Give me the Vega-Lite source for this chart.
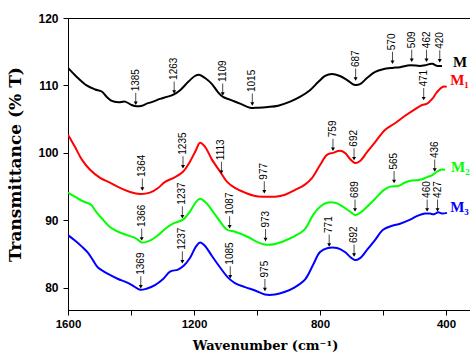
{
  "$schema": "https://vega.github.io/schema/vega-lite/v6.json",
  "width": 402,
  "height": 292,
  "autosize": {"type": "none"},
  "padding": {"left": 68, "top": 18, "right": 0, "bottom": 46},
  "background": "white",
  "config": {
    "view": {"stroke": "#000", "strokeWidth": 1},
    "axis": {"domainColor": "#000", "tickColor": "#000", "labelColor": "#000", "titleColor": "#000", "grid": false, "labelFlush": false, "labelOverlap": false}
  },
  "datasets": {
    "curves": [
      {"s":"M","x":1600,"y":112.6},{"s":"M","x":1573,"y":111.3},{"s":"M","x":1541,"y":110.0},{"s":"M","x":1514,"y":109.4},{"s":"M","x":1493,"y":109.1},{"s":"M","x":1477,"y":108.3},{"s":"M","x":1461,"y":107.7},{"s":"M","x":1440,"y":107.5},{"s":"M","x":1419,"y":107.6},{"s":"M","x":1398,"y":107.1},{"s":"M","x":1382,"y":106.9},{"s":"M","x":1365,"y":107.0},{"s":"M","x":1350,"y":107.3},{"s":"M","x":1330,"y":107.6},{"s":"M","x":1308,"y":108.0},{"s":"M","x":1286,"y":108.3},{"s":"M","x":1267,"y":108.6},{"s":"M","x":1244,"y":109.3},{"s":"M","x":1219,"y":110.5},{"s":"M","x":1197,"y":111.4},{"s":"M","x":1184,"y":111.6},{"s":"M","x":1165,"y":111.1},{"s":"M","x":1143,"y":110.2},{"s":"M","x":1124,"y":109.0},{"s":"M","x":1108,"y":108.3},{"s":"M","x":1086,"y":107.9},{"s":"M","x":1054,"y":107.3},{"s":"M","x":1022,"y":106.7},{"s":"M","x":997,"y":106.7},{"s":"M","x":965,"y":106.8},{"s":"M","x":933,"y":107.0},{"s":"M","x":895,"y":107.6},{"s":"M","x":864,"y":108.3},{"s":"M","x":832,"y":109.3},{"s":"M","x":806,"y":110.5},{"s":"M","x":784,"y":111.4},{"s":"M","x":762,"y":111.7},{"s":"M","x":737,"y":111.4},{"s":"M","x":714,"y":110.8},{"s":"M","x":692,"y":110.1},{"s":"M","x":673,"y":110.2},{"s":"M","x":651,"y":111.1},{"s":"M","x":625,"y":112.0},{"s":"M","x":600,"y":112.4},{"s":"M","x":571,"y":112.6},{"s":"M","x":546,"y":112.7},{"s":"M","x":514,"y":113.0},{"s":"M","x":483,"y":112.9},{"s":"M","x":467,"y":113.0},{"s":"M","x":444,"y":113.2},{"s":"M","x":429,"y":112.9},{"s":"M","x":413,"y":112.9},
      {"s":"M1","x":1600,"y":102.7},{"s":"M1","x":1578,"y":100.9},{"s":"M1","x":1556,"y":99.0},{"s":"M1","x":1530,"y":97.5},{"s":"M1","x":1498,"y":96.3},{"s":"M1","x":1467,"y":95.6},{"s":"M1","x":1435,"y":94.8},{"s":"M1","x":1403,"y":94.2},{"s":"M1","x":1371,"y":93.9},{"s":"M1","x":1340,"y":94.1},{"s":"M1","x":1314,"y":94.8},{"s":"M1","x":1292,"y":95.7},{"s":"M1","x":1260,"y":96.4},{"s":"M1","x":1235,"y":97.2},{"s":"M1","x":1213,"y":98.7},{"s":"M1","x":1194,"y":100.4},{"s":"M1","x":1181,"y":101.5},{"s":"M1","x":1165,"y":100.9},{"s":"M1","x":1143,"y":99.0},{"s":"M1","x":1117,"y":97.2},{"s":"M1","x":1095,"y":95.7},{"s":"M1","x":1070,"y":94.8},{"s":"M1","x":1038,"y":94.1},{"s":"M1","x":1006,"y":93.6},{"s":"M1","x":975,"y":93.5},{"s":"M1","x":943,"y":93.5},{"s":"M1","x":911,"y":93.8},{"s":"M1","x":879,"y":94.5},{"s":"M1","x":848,"y":95.3},{"s":"M1","x":825,"y":96.3},{"s":"M1","x":800,"y":98.2},{"s":"M1","x":778,"y":99.7},{"s":"M1","x":759,"y":100.0},{"s":"M1","x":737,"y":100.3},{"s":"M1","x":721,"y":100.0},{"s":"M1","x":705,"y":99.1},{"s":"M1","x":689,"y":98.5},{"s":"M1","x":673,"y":98.8},{"s":"M1","x":651,"y":100.1},{"s":"M1","x":625,"y":101.6},{"s":"M1","x":594,"y":103.4},{"s":"M1","x":562,"y":104.4},{"s":"M1","x":530,"y":105.5},{"s":"M1","x":498,"y":106.5},{"s":"M1","x":476,"y":107.1},{"s":"M1","x":460,"y":107.3},{"s":"M1","x":444,"y":108.0},{"s":"M1","x":429,"y":109.0},{"s":"M1","x":410,"y":109.8},{"s":"M1","x":398,"y":109.8},
      {"s":"M2","x":1600,"y":94.1},{"s":"M2","x":1578,"y":93.5},{"s":"M2","x":1556,"y":92.9},{"s":"M2","x":1540,"y":92.6},{"s":"M2","x":1527,"y":92.3},{"s":"M2","x":1508,"y":91.1},{"s":"M2","x":1489,"y":90.1},{"s":"M2","x":1467,"y":89.0},{"s":"M2","x":1441,"y":88.3},{"s":"M2","x":1413,"y":87.8},{"s":"M2","x":1387,"y":87.4},{"s":"M2","x":1365,"y":86.7},{"s":"M2","x":1340,"y":87.0},{"s":"M2","x":1314,"y":87.8},{"s":"M2","x":1292,"y":88.7},{"s":"M2","x":1267,"y":89.5},{"s":"M2","x":1235,"y":90.1},{"s":"M2","x":1213,"y":91.3},{"s":"M2","x":1194,"y":92.7},{"s":"M2","x":1181,"y":93.2},{"s":"M2","x":1162,"y":92.6},{"s":"M2","x":1140,"y":91.3},{"s":"M2","x":1117,"y":89.8},{"s":"M2","x":1095,"y":88.6},{"s":"M2","x":1070,"y":88.3},{"s":"M2","x":1032,"y":87.6},{"s":"M2","x":1000,"y":86.8},{"s":"M2","x":975,"y":86.4},{"s":"M2","x":943,"y":86.5},{"s":"M2","x":911,"y":87.0},{"s":"M2","x":879,"y":87.7},{"s":"M2","x":848,"y":88.7},{"s":"M2","x":822,"y":90.8},{"s":"M2","x":800,"y":92.0},{"s":"M2","x":778,"y":92.6},{"s":"M2","x":752,"y":92.6},{"s":"M2","x":730,"y":92.1},{"s":"M2","x":705,"y":91.3},{"s":"M2","x":689,"y":90.8},{"s":"M2","x":673,"y":91.1},{"s":"M2","x":651,"y":92.0},{"s":"M2","x":625,"y":93.2},{"s":"M2","x":600,"y":94.4},{"s":"M2","x":578,"y":95.0},{"s":"M2","x":552,"y":95.1},{"s":"M2","x":530,"y":95.6},{"s":"M2","x":508,"y":95.9},{"s":"M2","x":483,"y":96.0},{"s":"M2","x":460,"y":96.4},{"s":"M2","x":444,"y":96.7},{"s":"M2","x":429,"y":97.2},{"s":"M2","x":416,"y":97.5},{"s":"M2","x":403,"y":97.5},
      {"s":"M3","x":1600,"y":87.8},{"s":"M3","x":1578,"y":87.0},{"s":"M3","x":1556,"y":86.1},{"s":"M3","x":1537,"y":85.2},{"s":"M3","x":1521,"y":84.1},{"s":"M3","x":1505,"y":83.0},{"s":"M3","x":1486,"y":82.4},{"s":"M3","x":1467,"y":81.9},{"s":"M3","x":1441,"y":81.3},{"s":"M3","x":1419,"y":80.9},{"s":"M3","x":1397,"y":80.4},{"s":"M3","x":1371,"y":79.7},{"s":"M3","x":1349,"y":79.9},{"s":"M3","x":1324,"y":80.4},{"s":"M3","x":1298,"y":81.3},{"s":"M3","x":1276,"y":82.4},{"s":"M3","x":1251,"y":82.7},{"s":"M3","x":1232,"y":83.3},{"s":"M3","x":1213,"y":84.4},{"s":"M3","x":1194,"y":86.1},{"s":"M3","x":1181,"y":86.7},{"s":"M3","x":1165,"y":86.2},{"s":"M3","x":1143,"y":84.7},{"s":"M3","x":1117,"y":83.0},{"s":"M3","x":1092,"y":81.5},{"s":"M3","x":1070,"y":80.7},{"s":"M3","x":1038,"y":80.1},{"s":"M3","x":1006,"y":79.6},{"s":"M3","x":975,"y":79.0},{"s":"M3","x":943,"y":79.0},{"s":"M3","x":911,"y":79.4},{"s":"M3","x":879,"y":80.1},{"s":"M3","x":848,"y":81.2},{"s":"M3","x":822,"y":83.4},{"s":"M3","x":800,"y":85.3},{"s":"M3","x":775,"y":85.9},{"s":"M3","x":746,"y":85.9},{"s":"M3","x":721,"y":85.3},{"s":"M3","x":705,"y":84.6},{"s":"M3","x":689,"y":84.1},{"s":"M3","x":673,"y":84.4},{"s":"M3","x":651,"y":85.6},{"s":"M3","x":625,"y":87.1},{"s":"M3","x":600,"y":88.6},{"s":"M3","x":571,"y":89.2},{"s":"M3","x":546,"y":89.5},{"s":"M3","x":514,"y":90.1},{"s":"M3","x":489,"y":90.7},{"s":"M3","x":467,"y":91.0},{"s":"M3","x":451,"y":91.0},{"s":"M3","x":438,"y":90.9},{"s":"M3","x":425,"y":91.2},{"s":"M3","x":413,"y":91.0},{"s":"M3","x":397,"y":91.1}
    ],
    "ann": [
      {"x":1385,"y":106.9},{"x":1263,"y":108.6},{"x":1109,"y":108.3},{"x":1015,"y":106.8},{"x":687,"y":110.5},{"x":570,"y":113.0},{"x":509,"y":113.3},{"x":462,"y":113.3},{"x":420,"y":113.2},
      {"x":1364,"y":94.2},{"x":1235,"y":97.5},{"x":1113,"y":96.7},{"x":977,"y":93.8},{"x":759,"y":100.1},{"x":692,"y":98.7},{"x":471,"y":107.6},
      {"x":1366,"y":86.8},{"x":1237,"y":90.1},{"x":1087,"y":88.6},{"x":973,"y":86.7},{"x":689,"y":91.1},{"x":565,"y":95.3},{"x":436,"y":97.0},
      {"x":1369,"y":79.7},{"x":1237,"y":83.4},{"x":1085,"y":81.2},{"x":975,"y":79.3},{"x":771,"y":85.9},{"x":692,"y":84.4},{"x":460,"y":91.1},{"x":427,"y":91.1}
    ],
    "names": [
      {"s":"M","name":"M","x":378,"y":113.5},
      {"s":"M1","name":"M₁","x":387,"y":110.8},
      {"s":"M2","name":"M₂","x":384,"y":97.9},
      {"s":"M3","name":"M₃","x":387,"y":91.9}
    ]
  },
  "layer": [
    {
      "data": {"name": "curves"},
      "mark": {"type": "line", "strokeWidth": 2, "interpolate": "catmull-rom", "clip": true},
      "encoding": {
        "x": {
          "field": "x", "type": "quantitative",
          "scale": {"domain": [324, 1600], "reverse": true, "nice": false, "zero": false},
          "axis": {
            "values": [1600, 1400, 1200, 1000, 800, 600, 400],
            "format": "d",
            "labelExpr": "datum.value % 400 === 0 ? datum.label : ''",
            "tickSize": 5,
            "labelPadding": 3,
            "labelFont": "Liberation Sans", "labelFontWeight": "bold", "labelFontSize": 11.5,
            "title": "Wavenumber (cm⁻¹)",
            "titleFont": "DejaVu Serif", "titleFontWeight": "bold", "titleFontSize": 13,
            "titleX": 197, "titleY": 35, "titleBaseline": "middle", "titleAnchor": "middle"
          }
        },
        "y": {
          "field": "y", "type": "quantitative",
          "scale": {"domain": [76.7, 120], "nice": false, "zero": false},
          "axis": {
            "values": [80, 85, 90, 95, 100, 105, 110, 115, 120],
            "labelExpr": "datum.value % 10 === 0 ? datum.label : ''",
            "tickSize": {"condition": {"test": "datum.value % 10 === 0", "value": 5}, "value": 3},
            "labelPadding": 5,
            "labelFont": "Liberation Sans", "labelFontWeight": "bold", "labelFontSize": 12,
            "title": "Transmittance (% T)",
            "titleFont": "DejaVu Serif", "titleFontWeight": "bold", "titleFontSize": 17,
            "titleX": -53, "titleY": 146, "titleBaseline": "middle", "titleAnchor": "middle"
          }
        },
        "color": {
          "field": "s", "type": "nominal",
          "scale": {"domain": ["M", "M1", "M2", "M3"], "range": ["#000000", "#ff0000", "#00ff00", "#0000ff"]},
          "legend": null
        }
      }
    },
    {
      "data": {"name": "ann"},
      "mark": {"type": "tick", "orient": "vertical", "size": 11, "thickness": 1, "yOffset": -8, "color": "#000"},
      "encoding": {
        "x": {"field": "x", "type": "quantitative"},
        "y": {"field": "y", "type": "quantitative"}
      }
    },
    {
      "data": {"name": "ann"},
      "mark": {"type": "point", "shape": "triangle-down", "filled": true, "size": 16, "yOffset": -3, "color": "#000", "opacity": 1},
      "encoding": {
        "x": {"field": "x", "type": "quantitative"},
        "y": {"field": "y", "type": "quantitative"}
      }
    },
    {
      "data": {"name": "ann"},
      "mark": {"type": "text", "angle": 270, "align": "left", "baseline": "middle", "yOffset": -15, "fontSize": 10, "font": "Liberation Sans Narrow, Liberation Sans", "color": "#000"},
      "encoding": {
        "x": {"field": "x", "type": "quantitative"},
        "y": {"field": "y", "type": "quantitative"},
        "text": {"field": "x", "type": "quantitative", "format": "d"}
      }
    },
    {
      "data": {"name": "names"},
      "mark": {"type": "text", "align": "left", "baseline": "middle", "fontSize": 15, "font": "Liberation Serif", "fontWeight": "bold"},
      "encoding": {
        "x": {"field": "x", "type": "quantitative"},
        "y": {"field": "y", "type": "quantitative"},
        "text": {"field": "name"},
        "color": {"field": "s", "type": "nominal", "legend": null}
      }
    }
  ]
}
